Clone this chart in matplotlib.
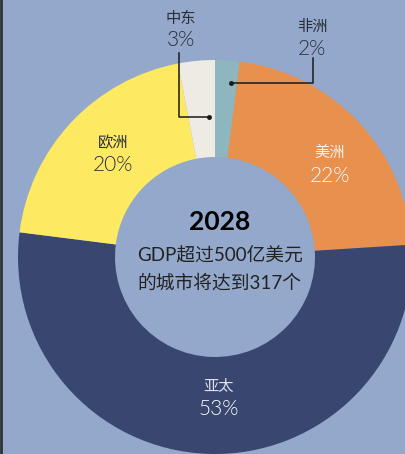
import matplotlib
matplotlib.use("Agg")
import matplotlib.pyplot as plt

# share of cities with GDP > 50bn USD in 2028, by region (clockwise from 12 o'clock)
regions = ['非洲', '美洲', '亚太', '欧洲', '中东']
shares = [2, 22, 53, 20, 3]
colors = ['#8EB6BE', '#E8904E', '#384670', '#FEE963', '#EEEBE4']
pct_labels = ['2%', '22%', '53%', '20%', '3%']
title_year = '2028'
center_lines = ['GDP超过500亿美元', '的城市将达到317个']

bg = '#93A8CA'
fams = ['Lato', 'Noto Sans CJK SC', 'DejaVu Sans']
plt.rcParams['font.family'] = fams

W, H = 405, 454
fig = plt.figure(figsize=(W / 100, H / 100), dpi=100, facecolor=bg)
ax = fig.add_axes([0, 0, 1, 1])
ax.set_facecolor(bg)

def py(y):
    # pixel row -> data y
    return H - y

cx, cy = 215, py(257)
ax.pie(shares, colors=colors, startangle=90, counterclock=False,
       center=(cx, cy), radius=197,
       wedgeprops=dict(width=97, linewidth=0))

ax.set_xlim(0, W)
ax.set_ylim(0, H)
ax.set_aspect('equal')
ax.axis('off')

# slice labels: (name pos, pct pos, name colour, pct colour)
dark = '#2a2d3a'
label_pos = {
    '非洲': ((312, 27), (312, 49), dark, dark),
    '美洲': ((330, 153), (330, 176), '#f4f0ea', 'white'),
    '亚太': ((219, 387), (219, 409), '#dfe2ea', 'white'),
    '欧洲': ((113, 143), (113, 165), dark, dark),
    '中东': ((181, 19), (181, 40), dark, dark),
}
for name, pct in zip(regions, pct_labels):
    (nx, ny), (px_, pyy), c1, c2 = label_pos[name]
    ax.text(nx, py(ny), name, ha='center', va='center', fontsize=11, color=c1)
    ax.text(px_, py(pyy), pct, ha='center', va='center', fontsize=15,
            color=c2, fontweight=300)

# leader lines
ax.plot([179, 179, 209], [py(53), py(117), py(117)], color='#1a1a1a', lw=1.1)
ax.plot([209], [py(117)], 'o', color='#1a1a1a', ms=2.5)
ax.plot([231, 313, 313], [py(83), py(83), py(58)], color='#1a1a1a', lw=1.1)
ax.plot([231], [py(83)], 'o', color='#1a1a1a', ms=2.5)

# centre text
ax.text(220, py(222), title_year, ha='center', va='center', fontsize=19,
        fontweight='bold', color='black')
ax.text(220, py(256), center_lines[0], ha='center', va='center', fontsize=13.5,
        color='#222222')
ax.text(219, py(283), center_lines[1], ha='center', va='center', fontsize=13.5,
        color='#222222')

# dark page edge on the left
ax.plot([0.8, 0.8], [0, H], color='#2f3238', lw=2)

fig.savefig('out.png', dpi=100, facecolor=bg)
